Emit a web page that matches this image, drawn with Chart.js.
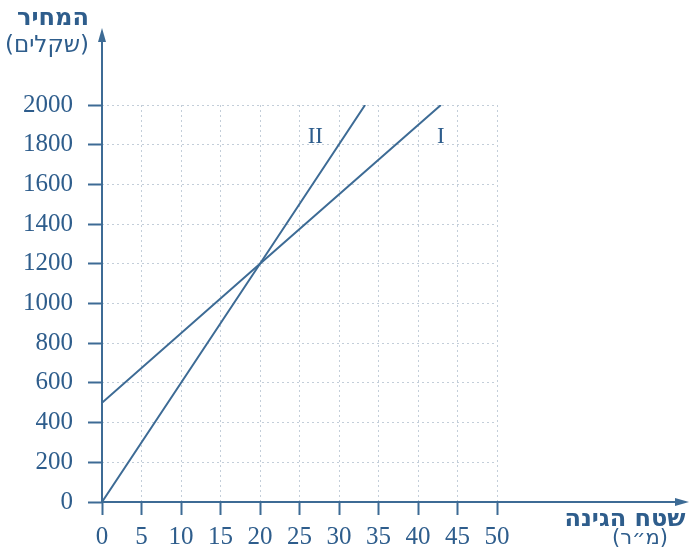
<!DOCTYPE html>
<html><head><meta charset="utf-8">
<script src="https://cdn.jsdelivr.net/npm/chart.js@4/dist/chart.umd.min.js"></script>
<style>html,body{margin:0;padding:0;background:#fff}canvas{display:block}</style>
</head><body>
<canvas id="c" width="691" height="560"></canvas>
<script>
const xTicks = [0,5,10,15,20,25,30,35,40,45,50];
const yTicks = [0,200,400,600,800,1000,1200,1400,1600,1800,2000];
const lineI_x = [0, 20, 42.9];
const lineI_y = [500, 1200, 2000];
const lineII_x = [0, 20, 33.3];
const lineII_y = [0, 1200, 2000];
const lineLabels = ['I','II'];
const labelPosX = [42.9, 27];
const labelPosY = [1840, 1840];
const yTitle = ['המחיר','(שקלים)'];
const xTitle = ['שטח הגינה','(מ״ר)'];

const AX = '#3d6b95', TXT = '#2e5d8c', GRID = '#c3ced9';
const serif = '"Liberation Serif","DejaVu Serif",serif';
const heb = '"DejaVu Sans","Liberation Sans",sans-serif';

const deco = {
  id:'deco',
  afterDraw(chart){
    const ctx = chart.ctx, a = chart.chartArea, xs = chart.scales.x, ys = chart.scales.y;
    ctx.save();
    ctx.strokeStyle = AX; ctx.fillStyle = AX; ctx.lineWidth = 2;
    ctx.beginPath(); ctx.moveTo(a.left, a.bottom); ctx.lineTo(a.left, 38); ctx.stroke();
    ctx.beginPath(); ctx.moveTo(a.left, 28); ctx.lineTo(a.left-4, 42); ctx.lineTo(a.left+4, 42); ctx.closePath(); ctx.fill();
    ctx.beginPath(); ctx.moveTo(a.left, a.bottom); ctx.lineTo(678, a.bottom); ctx.stroke();
    ctx.beginPath(); ctx.moveTo(689, a.bottom); ctx.lineTo(675, a.bottom-4); ctx.lineTo(675, a.bottom+4); ctx.closePath(); ctx.fill();
    ctx.fillStyle = TXT; ctx.font = '23px ' + serif; ctx.textAlign='center'; ctx.textBaseline='middle';
    lineLabels.forEach((t,i)=>ctx.fillText(t, xs.getPixelForValue(labelPosX[i]), ys.getPixelForValue(labelPosY[i])));
    ctx.direction = 'rtl';
    ctx.font = 'bold 24px ' + heb;
    ctx.fillText(yTitle[0], 53, 19);
    ctx.font = '23px ' + heb;
    ctx.fillText(yTitle[1], 47, 46);
    ctx.font = 'bold 24px ' + heb;
    ctx.fillText(xTitle[0], 625, 520);
    ctx.font = '21px ' + heb;
    ctx.fillText(xTitle[1], 640, 539);
    ctx.restore();
  }
};

new Chart(document.getElementById('c'), {
  type:'scatter',
  data:{datasets:[
    {label:'I', data: lineI_x.map((x,i)=>({x, y: lineI_y[i]})), showLine:true, borderColor:AX, borderWidth:2, pointRadius:0, tension:0},
    {label:'II', data: lineII_x.map((x,i)=>({x, y: lineII_y[i]})), showLine:true, borderColor:AX, borderWidth:2, pointRadius:0, tension:0}
  ]},
  options:{
    responsive:false, animation:false,
    layout:{padding:{left:0, right:194, top:105, bottom:0}},
    plugins:{legend:{display:false}, tooltip:{enabled:false}},
    scales:{
      x:{type:'linear', min:0, max:50,
        afterBuildTicks(s){ s.ticks = xTicks.map(v=>({value:v})); },
        afterFit(s){ s.height = 58; },
        ticks:{color:TXT, font:{family:serif, size:25}, padding:7, maxRotation:0, autoSkip:false, callback:v=>String(v)},
        grid:{color:GRID, lineWidth:1, tickColor:AX, tickLength:13, tickWidth:2, tickBorderDash:[]},
        border:{display:false, dash:[2,3]}
      },
      y:{type:'linear', min:0, max:2000,
        afterBuildTicks(s){ s.ticks = yTicks.map(v=>({value:v})); },
        afterFit(s){ s.width = 102; },
        ticks:{color:TXT, font:{family:serif, size:25}, padding:15, autoSkip:false, callback:v=>String(v)},
        grid:{color:GRID, lineWidth:1, tickColor:AX, tickLength:14, tickWidth:2, tickBorderDash:[]},
        border:{display:false, dash:[2,3]}
      }
    }
  },
  plugins:[deco]
});
</script>
</body></html>
